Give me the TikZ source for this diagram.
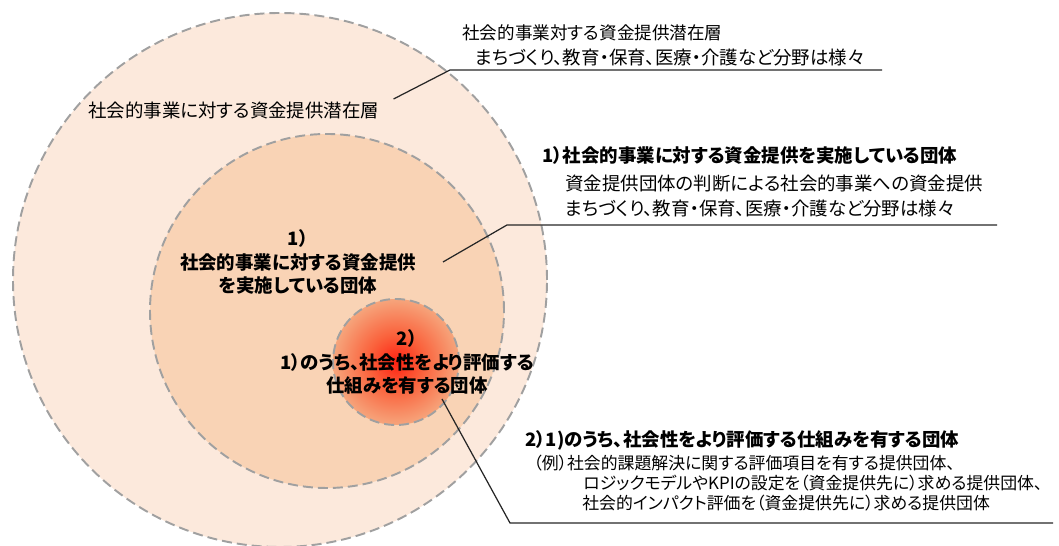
\documentclass[tikz,border=0pt]{standalone}
\usepackage{fontspec}
\setmainfont{Noto Sans CJK JP}[RawFeature=+palt]

\definecolor{poolfill}{RGB}{252,233,220}
\definecolor{activefill}{RGB}{249,211,181}
\definecolor{ringgray}{RGB}{160,160,160}
\definecolor{spotcore}{RGB}{255,34,18}
\definecolor{spotmid}{RGB}{250,98,60}
\definecolor{spotedge}{RGB}{246,165,124}
\pgfdeclareradialshading{hotspot}{\pgfpoint{0bp}{0bp}}{color(0bp)=(spotcore); color(11bp)=(spotmid); color(25bp)=(spotedge); color(50bp)=(spotedge)}

\begin{document}
\begin{tikzpicture}[
    ring/.style={circle, draw=ringgray, line width=1.1pt, dash pattern=on 0.2cm off 0.1cm, inner sep=0pt},
    pool/.style={ring, fill=poolfill, minimum size=10.68cm},
    active/.style={ring, fill=activefill, minimum size=7.08cm},
    spot/.style={ring, shading=hotspot, minimum size=2.52cm},
    note/.style={anchor=west, inner sep=0pt, font=\fontsize{10.5}{12}\selectfont},
    small/.style={note, font=\fontsize{9.6}{11}\selectfont},
    head/.style={note, font=\bfseries\fontsize{10.5}{12}\selectfont},
    inlabel/.style={align=center, inner sep=0pt, font=\bfseries\fontsize{10.5}{13.6}\selectfont},
    leader/.style={draw=black!85, line width=0.7pt}
]
\useasboundingbox (0, 0) rectangle (21.18, 10.92);

% Circles
\node[pool] (pool) at (5.60, 5.32) {};
\node[active] (active) at (6.54, 4.70) {};
\node[spot] (spot) at (7.92, 3.68) {};

% Labels inside the circles
\node[note] (lblPool) at (1.76, 8.72) {社会的事業に対する資金提供潜在層};
\node[inlabel] (lblActive) at (5.96, 5.68) {1）\\社会的事業に対する資金提供\\を実施している団体};
\node[inlabel] (lblSpot) at (8.14, 3.68) {2）\\1）のうち、社会性をより評価する\\仕組みを有する団体};

% Note for the outer layer
\node[note, font=\fontsize{10}{12}\selectfont] (poolA) at (9.24, 10.26) {社会的事業対する資金提供潜在層};
\node[note] (poolB) at (9.50, 9.76) {まちづくり、教育・保育、医療・介護など分野は様々};

% Note for 1)
\node[head] (activeHead) at (10.84, 7.82) {1）社会的事業に対する資金提供を実施している団体};
\node[note] (activeA) at (11.30, 7.24) {資金提供団体の判断による社会的事業への資金提供};
\node[note] (activeB) at (11.30, 6.74) {まちづくり、教育・保育、医療・介護など分野は様々};

% Note for 2)
\node[head] (spotHead) at (10.50, 2.12) {2）1)のうち、社会性をより評価する仕組みを有する団体};
\node[small] (spotA) at (10.66, 1.66) {（例）社会的課題解決に関する評価項目を有する提供団体、};
\node[small] (spotB) at (11.66, 1.26) {ロジックモデルやKPIの設定を（資金提供先に）求める提供団体、};
\node[small] (spotC) at (11.64, 0.86) {社会的インパクト評価を（資金提供先に）求める提供団体};

% Leader lines
\coordinate (poolBend) at (9.00, 9.52);
\coordinate (poolEnd) at (17.64, 9.52);
\coordinate (activeBend) at (10.14, 6.42);
\coordinate (activeEnd) at (19.94, 6.42);
\coordinate (spotBend) at (10.20, 0.46);
\coordinate (spotEnd) at (21.06, 0.46);
\draw[leader] ([xshift=0.28cm, yshift=0.22cm]lblPool.east) -- (poolBend) -- (poolEnd);
\draw[leader] ([xshift=2.9cm]lblActive.center) -- (activeBend) -- (activeEnd);
\draw[leader] ([xshift=0.7cm, yshift=-0.74cm]lblSpot.center) -- (spotBend) -- (spotEnd);

\end{tikzpicture}
\end{document}
